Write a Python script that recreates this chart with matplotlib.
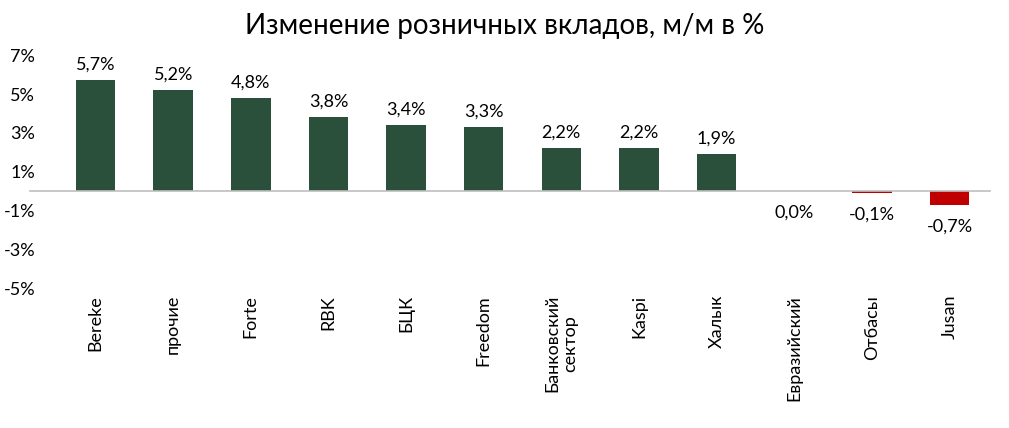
import matplotlib.pyplot as plt
import numpy as np

banks = ["Bereke", "прочие", "Forte", "RBK", "БЦК", "Freedom", "Банковский\nсектор",
         "Kaspi", "Халык", "Евразийский", "Отбасы", "Jusan"]
change = [5.7, 5.2, 4.8, 3.8, 3.4, 3.3, 2.2, 2.2, 1.9, 0.0, -0.1, -0.7]
labels = ["5,7%", "5,2%", "4,8%", "3,8%", "3,4%", "3,3%", "2,2%", "2,2%", "1,9%", "0,0%", "-0,1%", "-0,7%"]
yticks = [7, 5, 3, 1, -1, -3, -5]

plt.rcParams["font.family"] = "Lato"
fig = plt.figure(figsize=(10.09, 4.28), dpi=100)
ax = fig.add_axes([0.057, 0.327, 0.924, 0.544])

x = np.arange(len(banks))
colors = ["#2a4f3a" if v >= 0 else "#c00000" for v in change]
ax.bar(x, change, width=0.51, color=colors)
ax.axhline(0, xmin=-0.03, xmax=1.0, color="#bfbfbf", linewidth=1.2, clip_on=False)

for xi, v, lab in zip(x, change, labels):
    if v > 0:
        ax.text(xi, v + 0.4, lab, ha="center", va="bottom", fontsize=13)
    else:
        ax.text(xi, min(v, 0) - 0.7, lab, ha="center", va="top", fontsize=13)

ax.set_ylim(-5, 7)
ax.set_xlim(-0.49, len(banks) - 0.48)
ax.set_yticks(yticks)
ax.set_yticklabels([f"{t}%" for t in yticks], fontsize=13)
ax.set_xticks(x)
ax.set_xticklabels(banks, rotation=90, fontsize=13, va="top", ha="center")
ax.tick_params(length=0, pad=5)
ax.tick_params(axis="y", pad=16)
for s in ax.spines.values():
    s.set_visible(False)

fig.text(0.5, 0.97, "Изменение розничных вкладов, м/м в %", ha="center", va="top", fontsize=20)
fig.savefig("out.png", dpi=100)
